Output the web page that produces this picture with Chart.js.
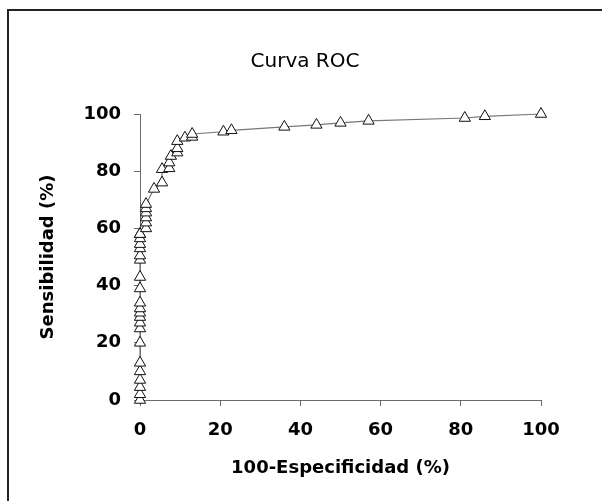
<!DOCTYPE html>
<html>
<head>
<meta charset="utf-8">
<script src="https://cdn.jsdelivr.net/npm/chart.js@4/dist/chart.umd.min.js"></script>
<style>
  html, body { margin: 0; padding: 0; background: #fff; }
  #wrap { position: relative; width: 602px; height: 501px; overflow: hidden; }
  #frame { position: absolute; left: 7px; top: 9px; width: 700px; height: 600px;
           border: 2px solid #222; }
  canvas { position: absolute; left: 0; top: 0; }
</style>
</head>
<body>
<div id="wrap">
  <div id="frame"></div>
  <canvas id="roc" width="602" height="501"></canvas>
</div>
<script>
"use strict";

// 100 - especificidad (%)
const FPR = [0, 0, 0, 0, 0, 0, 0, 0, 0, 0, 0, 0, 0, 0, 0, 0, 0, 0, 0, 0, 0, 0,
             1.5, 1.5, 1.5, 1.5, 1.5, 1.5,
             3.5, 5.5, 5.5, 7.3, 7.3, 7.7,
             9.3, 9.3, 9.3, 11.2, 13, 13,
             20.8, 22.8, 36, 44, 50, 57, 81, 86, 100];
// sensibilidad (%)
const TPR = [0, 2, 4.5, 7, 10, 13, 20, 25, 27, 29, 30.5, 32, 34, 39, 43, 49, 50.5, 53, 54.5, 56.5, 58, 58,
             60, 62, 63.8, 65.5, 67, 68.5,
             73.8, 76, 80.7, 81, 83, 85.3,
             86.5, 88, 90.5, 91.7, 92, 93,
             93.8, 94.3, 95.5, 96.2, 96.9, 97.6, 98.6, 99.2, 100];
const TICKS = [0, 20, 40, 60, 80, 100];

const TICK_FONT = {family: "DejaVu Sans", size: 18, weight: "bold"};
const AXIS_COLOR = "#6b6b6b";

const points = FPR.map(function(x, i) { return {x: x, y: TPR[i]}; });

new Chart(document.getElementById("roc").getContext("2d"), {
  type: "scatter",
  data: {
    datasets: [{
      data: points,
      showLine: true,
      borderColor: "#777",
      borderWidth: 1.2,
      pointStyle: "triangle",
      pointRadius: 6.5,
      pointBorderWidth: 1,
      pointBorderColor: "#111",
      pointBackgroundColor: "#fff",
      clip: false
    }]
  },
  options: {
    responsive: false,
    animation: false,
    layout: {padding: {left: 8, right: 0, top: 0, bottom: 0}},
    plugins: {
      legend: {display: false},
      tooltip: {enabled: false},
      title: {
        display: true,
        text: "Curva ROC",
        color: "#000",
        font: {family: "DejaVu Sans", size: 20, weight: "normal"},
        padding: {top: 50, bottom: 40}
      }
    },
    scales: {
      x: {
        type: "linear",
        min: 0,
        max: 100,
        afterFit: function(scale) { scale.height = 101; },
        afterBuildTicks: function(scale) {
          scale.ticks = TICKS.map(function(v) { return {value: v}; });
        },
        grid: {drawOnChartArea: false, drawTicks: true, tickLength: 6, color: AXIS_COLOR},
        border: {display: true, color: AXIS_COLOR, width: 1},
        ticks: {color: "#000", font: TICK_FONT, padding: 14},
        title: {
          display: true,
          text: "100-Especificidad (%)",
          color: "#000",
          font: {family: "DejaVu Sans", size: 18, weight: "bold"},
          padding: {top: 0, bottom: 22}
        }
      },
      y: {
        type: "linear",
        min: 0,
        max: 100,
        afterFit: function(scale) { scale.width = 132; },
        afterBuildTicks: function(scale) {
          scale.ticks = TICKS.map(function(v) { return {value: v}; });
        },
        grid: {drawOnChartArea: false, drawTicks: true, tickLength: 6, color: AXIS_COLOR},
        border: {display: true, color: AXIS_COLOR, width: 1},
        ticks: {color: "#000", font: TICK_FONT, padding: 13},
        title: {
          display: true,
          text: "Sensibilidad (%)",
          color: "#000",
          font: {family: "DejaVu Sans", size: 18, weight: "bold"},
          padding: {top: 30, bottom: 0}
        }
      },
      // empty right-hand axis that only reserves the margin to the right of the plot
      spacer: {
        type: "linear",
        position: "right",
        display: true,
        afterFit: function(scale) { scale.width = 61; },
        grid: {display: false},
        border: {display: false},
        ticks: {display: false}
      }
    }
  }
});
</script>
</body>
</html>
